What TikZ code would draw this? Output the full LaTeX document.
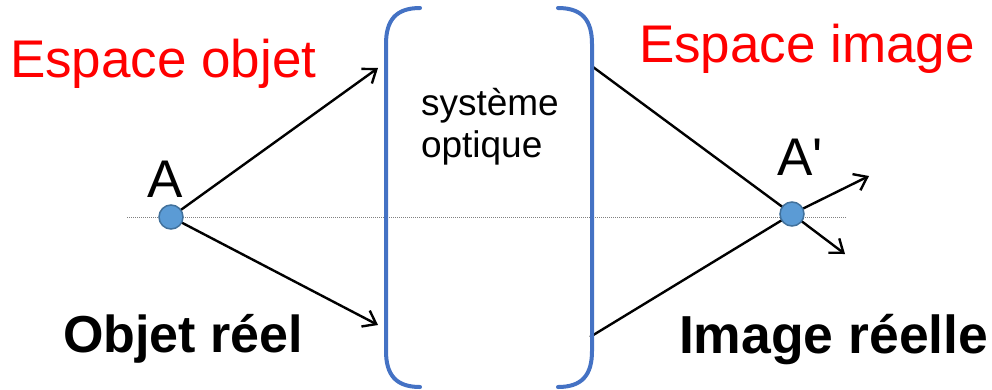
\documentclass[tikz,border=0pt]{standalone}
\usepackage{fontspec}
\setmainfont{Liberation Sans}
\usetikzlibrary{arrows.meta}
\definecolor{ptfill}{HTML}{5B9BD5}
\definecolor{ptdraw}{HTML}{41719C}
\definecolor{bracketblue}{HTML}{4472C4}
\definecolor{spacered}{HTML}{FF0000}
\tikzset{
  txt/.style={inner sep=0pt, outer sep=0pt, anchor=base west},
  big/.style={txt, font=\fontsize{53}{60}\selectfont},
  bigbold/.style={txt, font=\fontsize{52}{60}\selectfont\bfseries},
  small/.style={txt, font=\fontsize{37}{42}\selectfont},
  pt/.style={circle, minimum size=24pt, inner sep=0pt, fill=ptfill, draw=ptdraw, line width=1.5pt},
  ray/.style={line width=2.4pt, black},
  arrowray/.style={ray, -{Straight Barb[length=12pt,width=18pt,line width=2.4pt]}},
  bracket/.style={line width=4pt, bracketblue, line cap=round},
  axis/.style={line width=0.8pt, gray, dash pattern=on 1pt off 1pt}
}
\begin{document}
\begin{tikzpicture}[x=1pt, y=-1pt]
\useasboundingbox (0,0) rectangle (992,389);

% optical axis
\draw[axis] (127,217) -- (846,217);

% points
\coordinate (Ac) at (171,217);
\coordinate (Apc) at (792,214);

% ray end points
\coordinate (t1) at (378,68);
\coordinate (t2) at (378,325);
\coordinate (r1) at (593,67);
\coordinate (r2) at (590,337);
\coordinate (o1) at (869,176);
\coordinate (o2) at (845,254);

% rays on the object side
\draw[arrowray] (Ac) -- (t1);
\draw[arrowray] (Ac) -- (t2);
% rays on the image side
\draw[ray] (r1) -- (Apc);
\draw[ray] (r2) -- (Apc);
\draw[arrowray] (Apc) -- (o1);
\draw[arrowray] (Apc) -- (o2);

\node[pt] (A) at (Ac) {};
\node[pt] (Ap) at (Apc) {};

% the optical system, drawn as a pair of brackets
\draw[bracket] (420,8) .. controls (396,8) and (386,20) .. (386,44) -- (386,351)
  .. controls (386,375) and (396,387) .. (420,387);
\draw[bracket] (558,8) .. controls (582,8) and (592,20) .. (592,44) -- (592,351)
  .. controls (592,375) and (582,387) .. (558,387);

% labels
\node[big, text=spacered] (esobj) at (10,77) {Espace objet};
\node[big, text=spacered] (esimg) at (639,62) {Espace image};
\node[bigbold] (objreel) at (63,352) {Objet réel};
\node[bigbold, font=\fontsize{53.5}{60}\selectfont\bfseries] (imgreelle) at (679,353) {Image réelle};
\node[big] (lblA) at (147,197) {A};
\node[big] (lblAp) at (777,175) {A\textquotesingle};
\node[small] (sys1) at (421,115) {système};
\node[small] (sys2) at (421,157) {optique};
\end{tikzpicture}
\end{document}
